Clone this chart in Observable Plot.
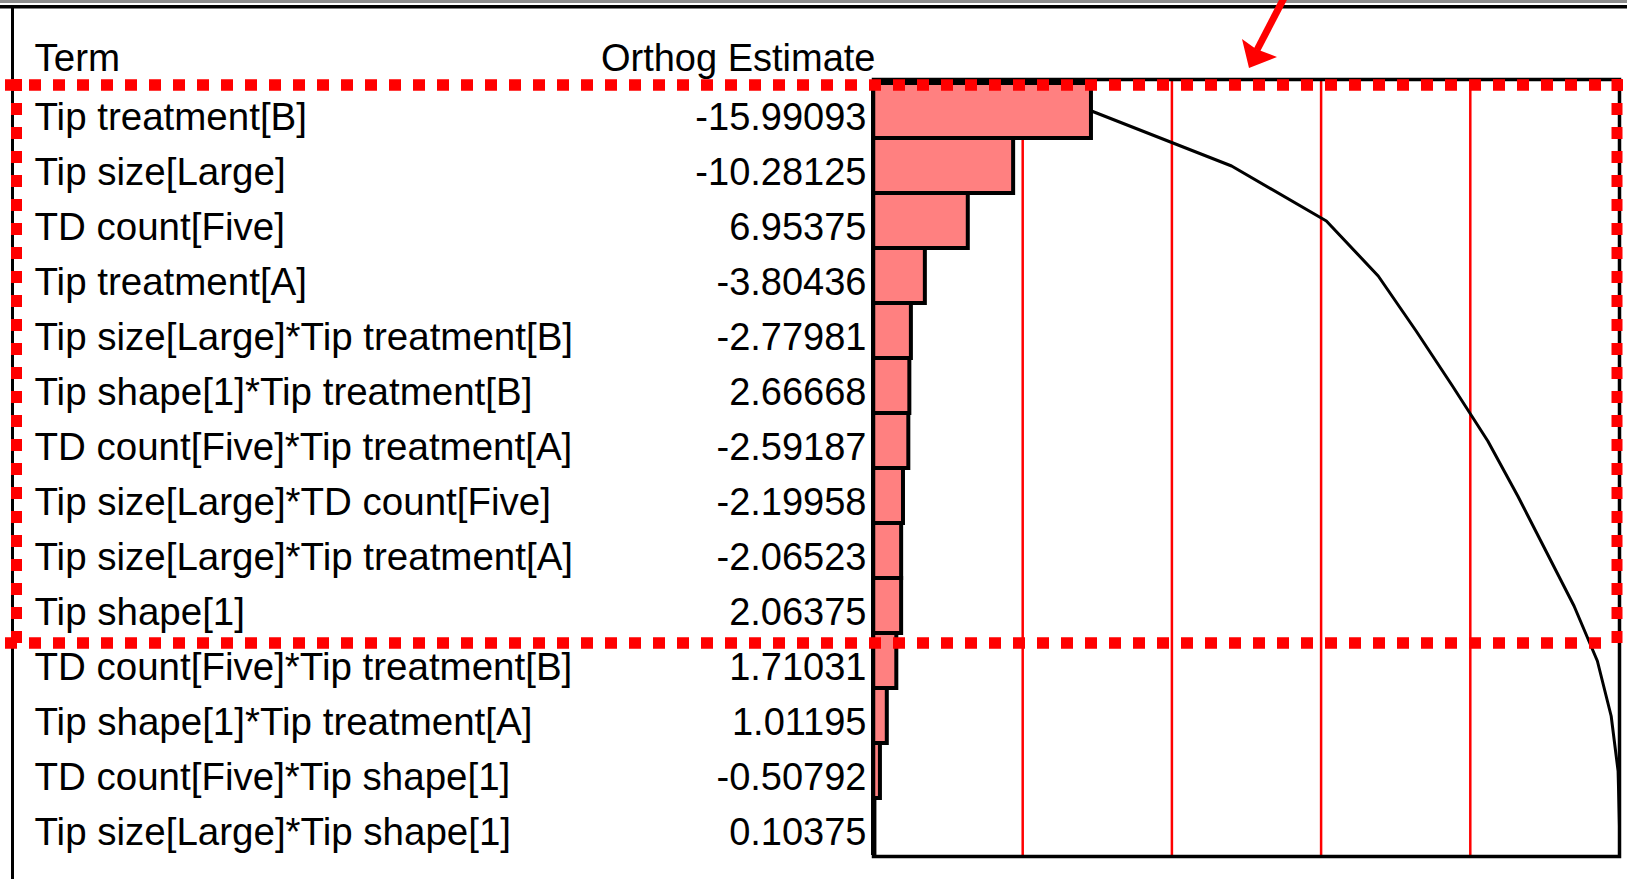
<!DOCTYPE html>
<html>
<head>
<meta charset="utf-8">
<script src="https://cdn.jsdelivr.net/npm/d3@7"></script>
<script src="https://cdn.jsdelivr.net/npm/@observablehq/plot@0.6"></script>
<style>
  html, body { margin: 0; padding: 0; background: #fff; }
  #chart { width: 1627px; height: 879px; overflow: hidden; }
</style>
</head>
<body>
<div id="chart"></div>
<script>
// ---- Data ----
const terms = [
  "Tip treatment[B]",
  "Tip size[Large]",
  "TD count[Five]",
  "Tip treatment[A]",
  "Tip size[Large]*Tip treatment[B]",
  "Tip shape[1]*Tip treatment[B]",
  "TD count[Five]*Tip treatment[A]",
  "Tip size[Large]*TD count[Five]",
  "Tip size[Large]*Tip treatment[A]",
  "Tip shape[1]",
  "TD count[Five]*Tip treatment[B]",
  "Tip shape[1]*Tip treatment[A]",
  "TD count[Five]*Tip shape[1]",
  "Tip size[Large]*Tip shape[1]"
];
const estimates = [
  -15.99093, -10.28125, 6.95375, -3.80436, -2.77981, 2.66668, -2.59187,
  -2.19958, -2.06523, 2.06375, 1.71031, 1.01195, -0.50792, 0.10375
];
const headers = ["Term", "Orthog Estimate"];
const refFractions = [0.2, 0.4, 0.6, 0.8];

// ---- Derived table ----
const total = d3.sum(estimates, v => Math.abs(v));
let running = 0;
const rows = terms.map((t, i) => {
  const frac = Math.abs(estimates[i]) / total;
  running += frac;
  return { term: t, est: estimates[i], frac, cum: running, label: estimates[i].toFixed(5) };
});

const W = 1627, H = 879;
const mL = 873, mR = 8, mT = 79, mB = 23;

const plot = Plot.plot({
  width: W,
  height: H,
  marginLeft: mL,
  marginRight: mR,
  marginTop: mT,
  marginBottom: mB,
  style: { fontFamily: "'Liberation Sans', Arial, sans-serif", background: "white", color: "black" },
  x: { domain: [0, 1], axis: null },
  y: { domain: terms, padding: 0, axis: null },
  marks: [
    Plot.ruleX(refFractions, { stroke: "#ff0000", strokeWidth: 2.5 }),
    Plot.barX(rows, { x: "frac", y: "term", fill: "#ff8080", stroke: "black", strokeWidth: 4 }),
    Plot.line(rows, { x: "cum", y: "term", stroke: "black", strokeWidth: 3 }),
    Plot.frame({ stroke: "black", strokeWidth: 3.5 }),
    Plot.text(rows, { y: "term", text: "term", frameAnchor: "left", lineAnchor: "middle", dx: -839, dy: 6.5, textAnchor: "start", fontSize: 38.5, fill: "black" }),
    Plot.text(rows, { y: "term", text: "label", frameAnchor: "left", lineAnchor: "middle", dx: -7, dy: 6.5, textAnchor: "end", fontSize: 38, fill: "black" }),
    Plot.text([headers[0]], { frameAnchor: "top-left", lineAnchor: "middle", dx: -839, dy: -21, textAnchor: "start", fontSize: 38.5, fill: "black" }),
    Plot.text([headers[1]], { frameAnchor: "top-left", lineAnchor: "middle", dx: 2, dy: -21, textAnchor: "end", fontSize: 38, fill: "black" })
  ]
});

document.getElementById("chart").appendChild(plot);

// ---- Decorations (window border, highlight box, arrow) ----
const svg = d3.select(plot);
const y = plot.scale("y");
const g = svg.append("g");

// top grey edge and black border lines
g.append("rect").attr("x", 0).attr("y", 0).attr("width", W).attr("height", 3).attr("fill", "#8c8c8c");
g.append("line").attr("x1", 0).attr("x2", W).attr("y1", 6.8).attr("y2", 6.8).attr("stroke", "black").attr("stroke-width", 3.5);
g.append("line").attr("x1", 12.5).attr("x2", 12.5).attr("y1", 5).attr("y2", H).attr("stroke", "black").attr("stroke-width", 3);

// red dotted highlight box around the first ten terms
const boxTop = mT + 6;
const boxBottom = y.apply(terms[10]) + 10;
const boxLeft = 16.5, boxRight = W - 10;
const dash = "12 12";
g.append("line").attr("x1", 5).attr("x2", W - 4).attr("y1", boxTop).attr("y2", boxTop)
  .attr("stroke", "#ff0000").attr("stroke-width", 11.5).attr("stroke-dasharray", dash);
g.append("line").attr("x1", 5).attr("x2", W - 16).attr("y1", boxBottom).attr("y2", boxBottom)
  .attr("stroke", "#ff0000").attr("stroke-width", 11.5).attr("stroke-dasharray", dash);
g.append("line").attr("x1", boxLeft).attr("x2", boxLeft).attr("y1", boxTop - 6).attr("y2", boxBottom + 6)
  .attr("stroke", "#ff0000").attr("stroke-width", 11).attr("stroke-dasharray", dash);
g.append("line").attr("x1", boxRight).attr("x2", boxRight).attr("y1", boxTop - 6).attr("y2", boxBottom + 6)
  .attr("stroke", "#ff0000").attr("stroke-width", 11).attr("stroke-dasharray", dash);

// red arrow pointing at the chart
g.append("line").attr("x1", 1284).attr("y1", -2).attr("x2", 1257).attr("y2", 50)
  .attr("stroke", "#ff0000").attr("stroke-width", 7);
g.append("polygon").attr("points", "1249,68 1242,39 1256,49 1277,57").attr("fill", "#ff0000");
</script>
</body>
</html>
